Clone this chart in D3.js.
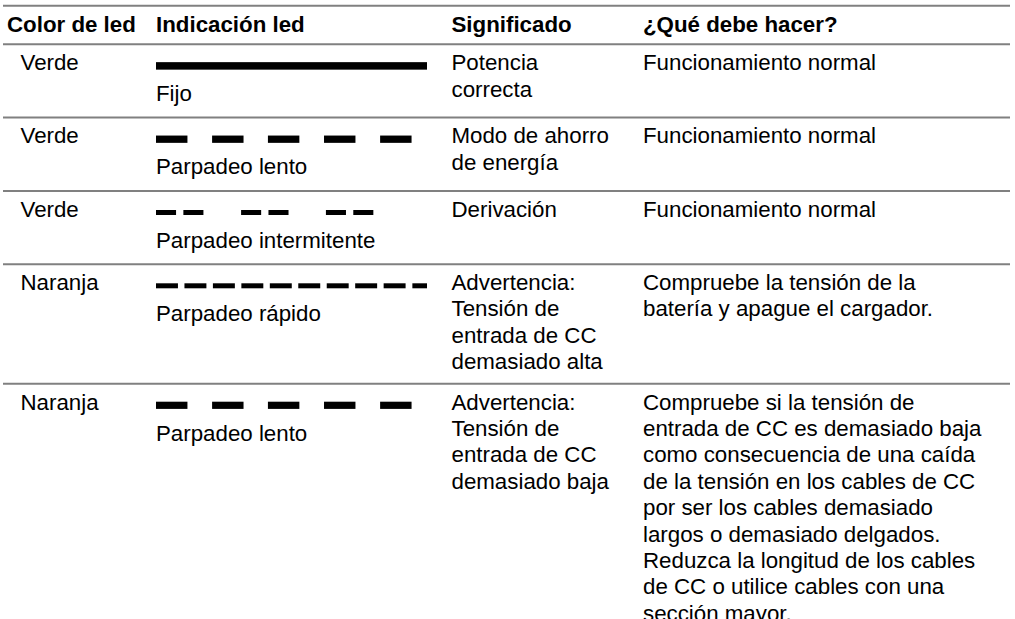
<!DOCTYPE html>
<html><head><meta charset="utf-8">
<script src="https://cdn.jsdelivr.net/npm/d3@7"></script>
<style>html,body{margin:0;padding:0;background:#fff;overflow:hidden}svg{display:block}</style>
</head><body>
<script>
// ---- data ----
const headers = ["Color de led", "Indicación led", "Significado", "¿Qué debe hacer?"];
const ledColors = ["Verde", "Verde", "Verde", "Naranja", "Naranja"];
const indications = ["Fijo", "Parpadeo lento", "Parpadeo intermitente", "Parpadeo rápido", "Parpadeo lento"];
const meanings = [
  ["Potencia", "correcta"],
  ["Modo de ahorro", "de energía"],
  ["Derivación"],
  ["Advertencia:", "Tensión de", "entrada de CC", "demasiado alta"],
  ["Advertencia:", "Tensión de", "entrada de CC", "demasiado baja"]
];
const actions = [
  ["Funcionamiento normal"],
  ["Funcionamiento normal"],
  ["Funcionamiento normal"],
  ["Compruebe la tensión de la", "batería y apague el cargador."],
  ["Compruebe si la tensión de", "entrada de CC es demasiado baja", "como consecuencia de una caída",
   "de la tensión en los cables de CC", "por ser los cables demasiado", "largos o demasiado delgados.",
   "Reduzca la longitud de los cables", "de CC o utilice cables con una", "sección mayor."]
];
// LED "on" intervals on a 0–100 timeline
const patternSolid = [[0, 100]];
const patternSlow = [[0, 11.6], [20.7, 32.3], [41.3, 52.9], [62, 73.6], [82.7, 94.3]];
const patternIntermittent = [[0, 7.4], [10.1, 17.5], [31.4, 38.8], [41.5, 48.9], [62.7, 70.1], [72.8, 80.2]];
const patternFast = [[0, 8.1], [10.5, 18.6], [21, 29.1], [31.5, 39.6], [42, 50.1], [52.5, 60.6], [63, 71.1], [73.5, 81.6], [84, 92.1], [94.6, 100]];
const patterns = [patternSolid, patternSlow, patternIntermittent, patternFast, patternSlow];

// ---- layout / style ----
const W = 1015, H = 619;
const FONT = "'Liberation Sans', Arial, Helvetica, sans-serif";
const FS = 22.3;
const lineH = 26.4;
const barThick = [7.5, 7.3, 5, 5, 7.2];
const colX = d3.scaleOrdinal().domain([0,1,2,3]).range([7, 156, 451.5, 643]);
const firstColBodyX = 20.5;
const tl = d3.scaleLinear().domain([0, 100]).range([156, 427]);

const svg = d3.select("body").append("svg").attr("width", W).attr("height", H);

const topLine = 5.7, headerBottom = 44.3;
let y = headerBottom;
const rows = ledColors.map((c, i) => {
  const n = Math.max(meanings[i].length, actions[i].length, 2);
  const h = Math.max(73.3, 25.8 + (n - 1) * lineH + 14.5);
  const r = {i, top: y, h};
  y += h;
  return r;
});

const ruleYs = [topLine, headerBottom].concat(rows.map(r => r.top + r.h));
svg.selectAll("line.rule").data(ruleYs).join("line")
  .attr("x1", 3).attr("x2", 1010).attr("y1", d => d).attr("y2", d => d)
  .attr("stroke", "#808080").attr("stroke-width", 2);

svg.selectAll("text.h").data(headers).join("text")
  .attr("x", (d, i) => colX(i)).attr("y", 32)
  .attr("font-family", FONT).attr("font-size", FS).attr("font-weight", "bold").attr("fill", "#000")
  .text(d => d);

const g = svg.selectAll("g.row").data(rows).join("g");
g.each(function(r) {
  const sel = d3.select(this);
  const b = r.top + 25.8;
  const txt = (x, yy, s) => sel.append("text").attr("x", x).attr("y", yy)
    .attr("font-family", FONT).attr("font-size", FS).attr("fill", "#000").text(s);
  txt(firstColBodyX, b, ledColors[r.i]);
  const cy = r.top + 21.6, t = barThick[r.i];
  sel.selectAll("rect").data(patterns[r.i]).join("rect")
    .attr("x", d => tl(d[0])).attr("width", d => tl(d[1]) - tl(d[0]))
    .attr("y", cy - t / 2).attr("height", t).attr("fill", "#000");
  txt(colX(1), b + 31, indications[r.i]);
  meanings[r.i].forEach((s, k) => txt(colX(2), b + k * lineH, s));
  actions[r.i].forEach((s, k) => txt(colX(3), b + k * lineH, s));
});
</script>
</body></html>
